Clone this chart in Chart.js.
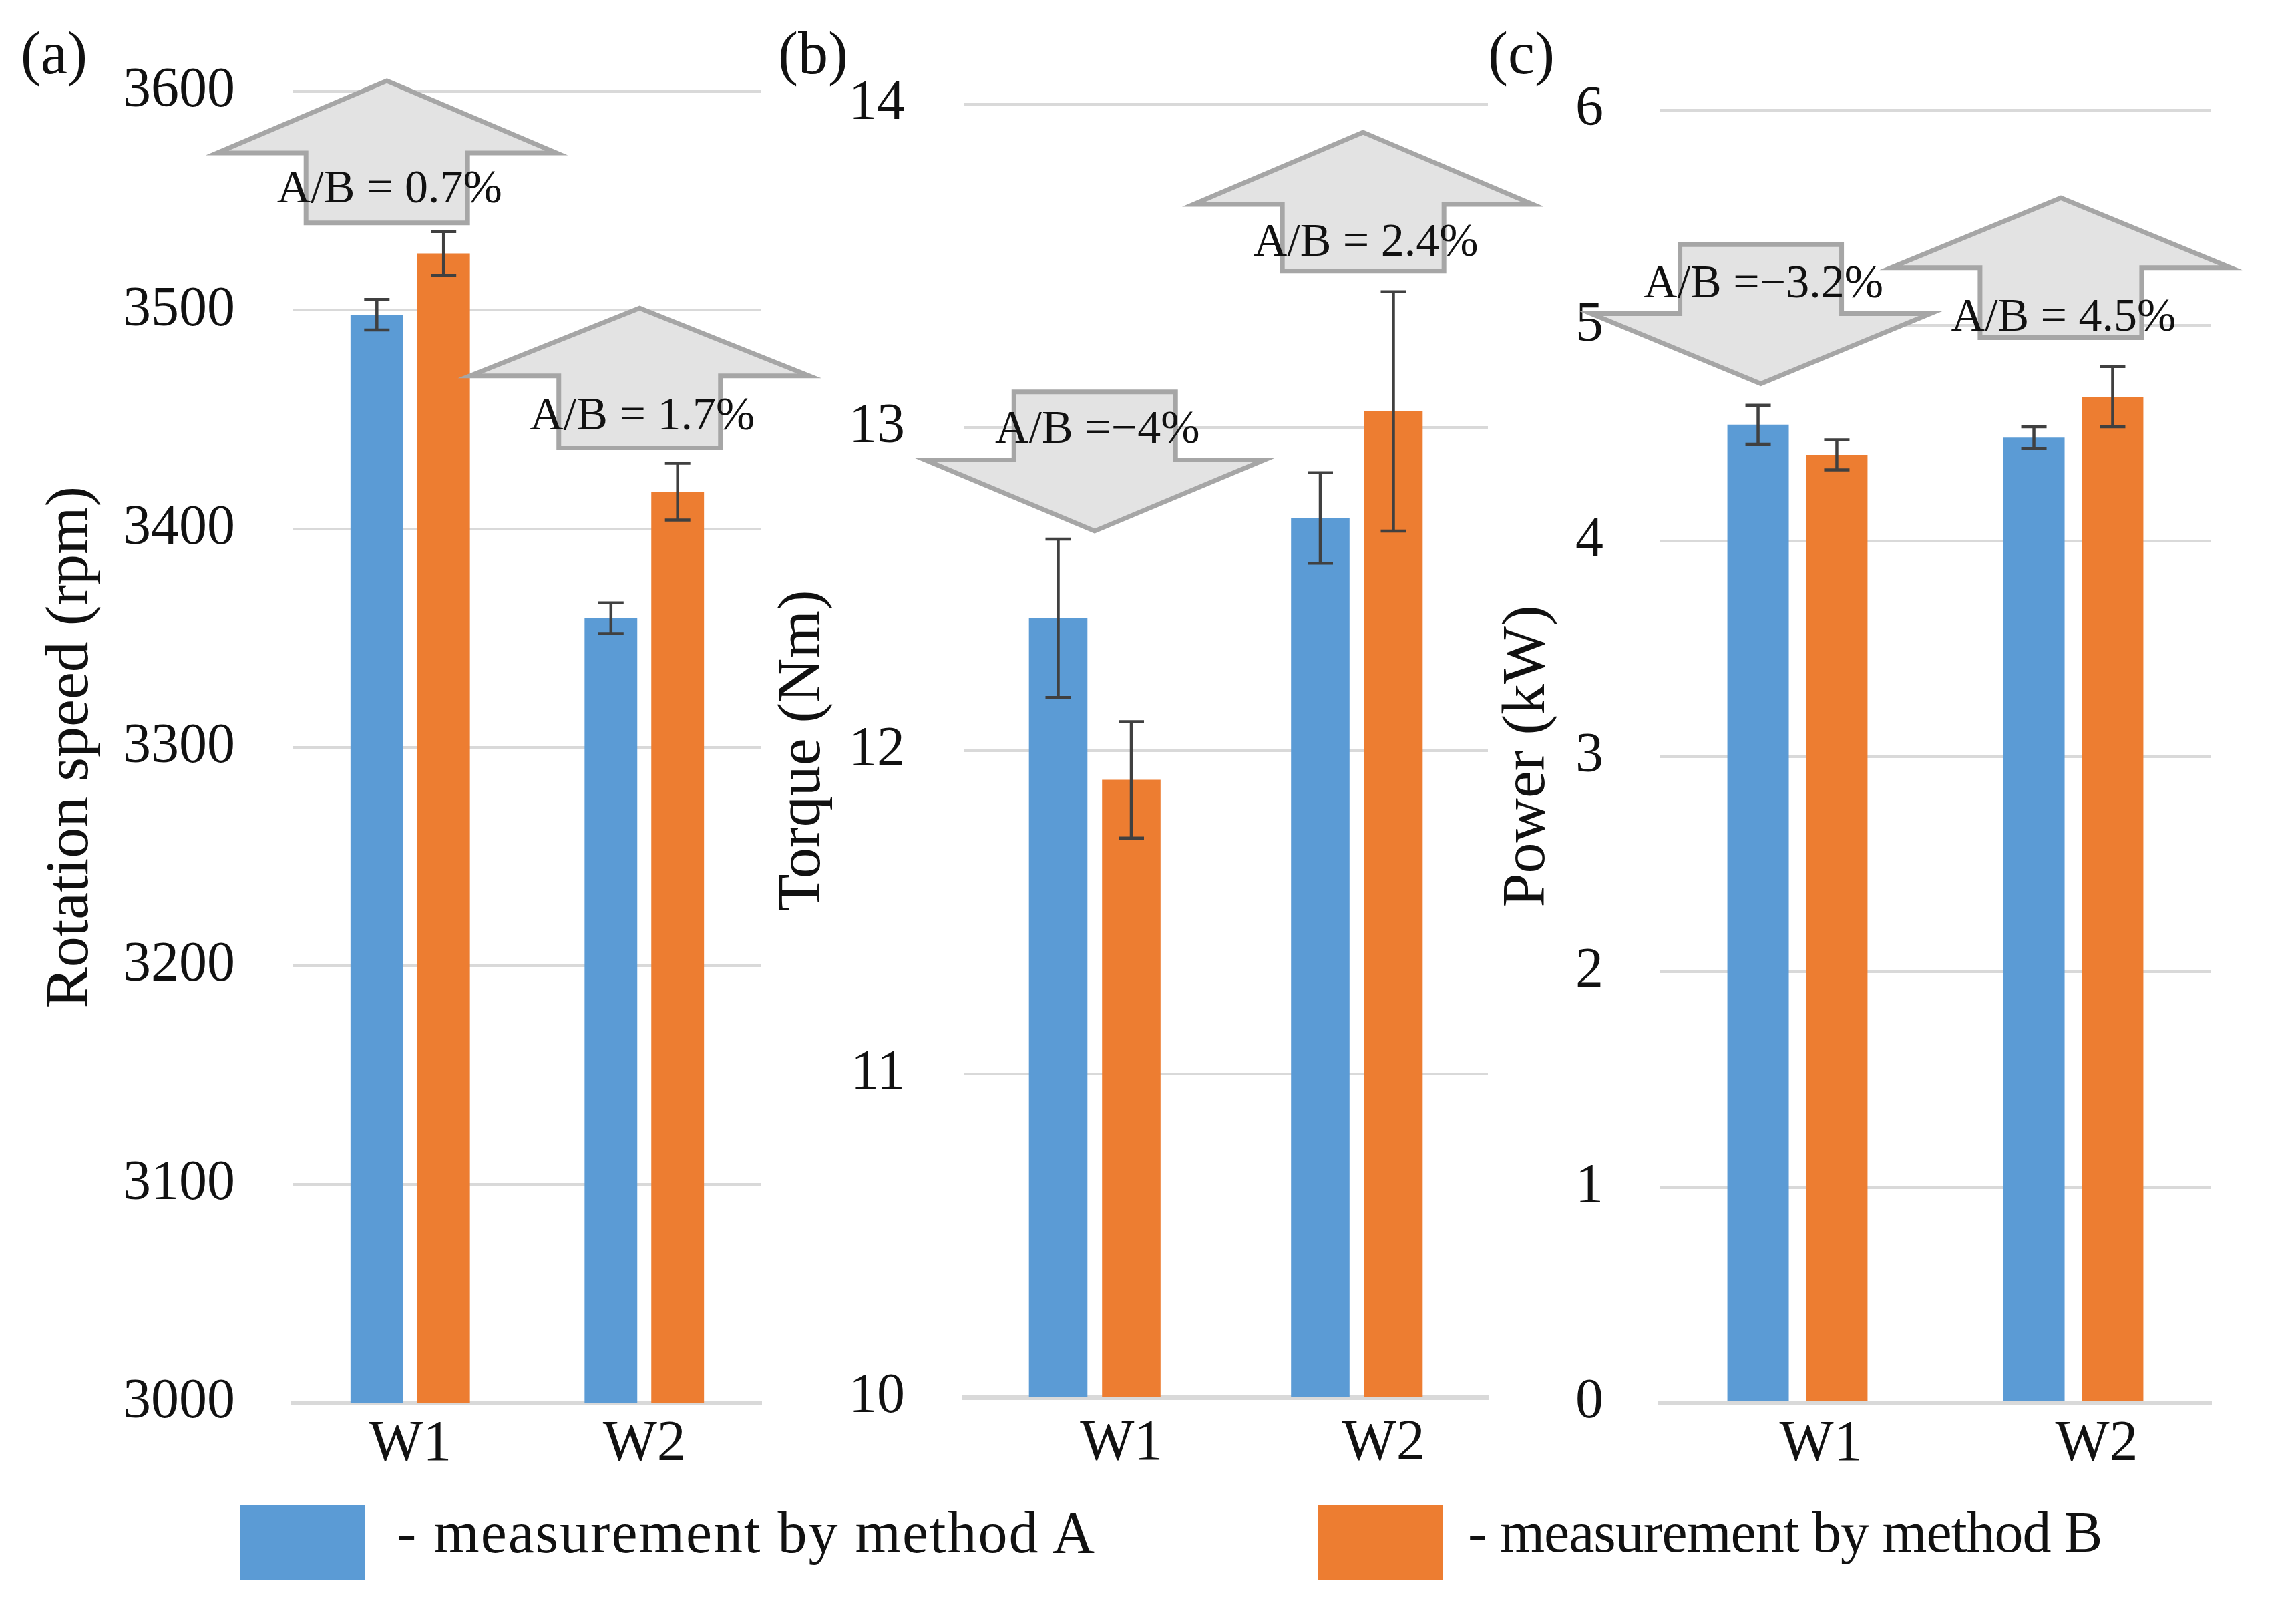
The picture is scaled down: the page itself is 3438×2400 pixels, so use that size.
<!DOCTYPE html>
<html>
<head>
<meta charset="utf-8">
<script src="https://cdn.jsdelivr.net/npm/chart.js@4.4.1/dist/chart.umd.min.js"></script>
<style>
  body { margin: 0; background: #fff; }
  #fig { position: relative; width: 3438px; height: 2400px; overflow: hidden; background: #fff; }
  #fig canvas { position: absolute; }
  .txt { position: absolute; font-family: 'Liberation Serif', serif; color: #111; line-height: 1; white-space: nowrap; }
  .panel { font-size: 90px; top: 35px; }
  .legtext { top: 2251px; }
  .swatch { position: absolute; top: 2254px; width: 187px; height: 111px; }
</style>
</head>
<body>
<div id="fig">
  <canvas id="speedChart" width="1250" height="2250" style="left:0px;top:0px"></canvas>
  <canvas id="torqueChart" width="1160" height="2250" style="left:1150px;top:0px"></canvas>
  <canvas id="powerChart" width="1238" height="2250" style="left:2200px;top:0px"></canvas>
  <div class="txt panel" style="left:31px">(a)</div>
  <div class="txt panel" style="left:1165px">(b)</div>
  <div class="txt panel" style="left:2228px">(c)</div>
  <div class="swatch" style="left:360px;background:#5b9bd5"></div>
  <div class="txt legtext" id="legA" style="left:594px;font-size:88px;letter-spacing:2px"></div>
  <div class="swatch" style="left:1974px;background:#ed7d31"></div>
  <div class="txt legtext" id="legB" style="left:2198px;font-size:86px;letter-spacing:-1px"></div>
</div>
<script>
// categories and legend
const categories = ['W1', 'W2'];
const methodLabels = ['- measurement by method A', '- measurement by method B'];

// (a) rotation speed, rpm
const speedA = [3498, 3359];
const speedAErr = [7, 7];
const speedB = [3526, 3417];
const speedBErr = [10, 13];
const speedTicks = [3000, 3600, 100];

// (b) torque, Nm
const torqueA = [12.41, 12.72];
const torqueAErr = [0.245, 0.14];
const torqueB = [11.91, 13.05];
const torqueBErr = [0.18, 0.37];
const torqueTicks = [10, 14, 1];

// (c) power, kW
const powerA = [4.54, 4.48];
const powerAErr = [0.09, 0.05];
const powerB = [4.40, 4.67];
const powerBErr = [0.07, 0.14];
const powerTicks = [0, 6, 1];

// A/B difference callouts
const speedRatios = ['A/B = 0.7%', 'A/B = 1.7%'];
const torqueRatios = ['A/B =\u22124%', 'A/B = 2.4%'];
const powerRatios = ['A/B =\u22123.2%', 'A/B = 4.5%'];

// arrow placement in data units: [category position, tip, neck, tail, text level]
const speedArrows = [[-0.1, 3605, 3572, 3540, 3555], [0.98, 3501, 3470, 3437, 3451]];
const torqueArrows = [[0, 12.68, 12.90, 13.11, 12.99], [1.024, 13.913, 13.69, 13.484, 13.568]];
const powerArrows = [[-0.133, 4.73, 5.056, 5.376, 5.19], [0.955, 5.593, 5.269, 4.944, 5.034]];

const BLUE = '#5b9bd5';
const ORANGE = '#ed7d31';
const FONT = "'Liberation Serif', serif";
const INK = '#111';

document.getElementById('legA').textContent = methodLabels[0];
document.getElementById('legB').textContent = methodLabels[1];

// draws the +/- error bars on top of each bar
const errorBars = {
  id: 'errorBars',
  afterDatasetsDraw(chart) {
    const ctx = chart.ctx;
    const y = chart.scales.y;
    ctx.save();
    ctx.strokeStyle = '#404040';
    ctx.lineWidth = 4.5;
    chart.data.datasets.forEach((ds, i) => {
      chart.getDatasetMeta(i).data.forEach((bar, j) => {
        const v = ds.data[j], e = ds.errors[j];
        const y1 = y.getPixelForValue(v + e);
        const y2 = y.getPixelForValue(v - e);
        ctx.beginPath();
        ctx.moveTo(bar.x, y1); ctx.lineTo(bar.x, y2);
        ctx.moveTo(bar.x - 19, y1); ctx.lineTo(bar.x + 19, y1);
        ctx.moveTo(bar.x - 19, y2); ctx.lineTo(bar.x + 19, y2);
        ctx.stroke();
      });
    });
    ctx.restore();
  }
};

// block arrows with the A/B text
const ratioArrows = {
  id: 'ratioArrows',
  afterDatasetsDraw(chart, args, opts) {
    const ctx = chart.ctx;
    const xs = chart.scales.x, ys = chart.scales.y;
    const headW = 254, shaftW = 121;
    opts.arrows.forEach((a, k) => {
      const cx = xs.getPixelForValue(a[0]);
      const tip = ys.getPixelForValue(a[1]);
      const neck = ys.getPixelForValue(a[2]);
      const tail = ys.getPixelForValue(a[3]);
      ctx.save();
      ctx.beginPath();
      ctx.moveTo(cx, tip);
      ctx.lineTo(cx + headW, neck);
      ctx.lineTo(cx + shaftW, neck);
      ctx.lineTo(cx + shaftW, tail);
      ctx.lineTo(cx - shaftW, tail);
      ctx.lineTo(cx - shaftW, neck);
      ctx.lineTo(cx - headW, neck);
      ctx.closePath();
      ctx.fillStyle = '#e3e3e3';
      ctx.fill();
      ctx.strokeStyle = '#a6a6a6';
      ctx.lineWidth = 7;
      ctx.stroke();
      ctx.fillStyle = INK;
      ctx.font = '70px ' + FONT;
      ctx.textAlign = 'center';
      ctx.textBaseline = 'middle';
      ctx.fillText(opts.texts[k], cx + 4, ys.getPixelForValue(a[4]));
      ctx.restore();
    });
  }
};

function makePanel(id, p) {
  const ctx = document.getElementById(id).getContext('2d');
  return new Chart(ctx, {
    type: 'bar',
    data: {
      labels: categories,
      datasets: [
        { label: methodLabels[0], data: p.a, errors: p.aErr, backgroundColor: BLUE,
          categoryPercentage: p.cat, barPercentage: p.bar },
        { label: methodLabels[1], data: p.b, errors: p.bErr, backgroundColor: ORANGE,
          categoryPercentage: p.cat, barPercentage: p.bar }
      ]
    },
    options: {
      responsive: false,
      animation: false,
      devicePixelRatio: 1,
      layout: { padding: { left: 0, top: p.top, right: p.right, bottom: 0 } },
      plugins: {
        legend: { display: false },
        tooltip: { enabled: false },
        ratioArrows: { arrows: p.arrows, texts: p.texts }
      },
      scales: {
        x: {
          grid: { display: false, drawTicks: false },
          border: { color: '#d9d9d9', width: 7 },
          ticks: { color: INK, font: { family: FONT, size: 86 }, padding: p.xPad, labelOffset: p.labelShift },
          afterFit: s => { s.height = p.xh; }
        },
        y: {
          min: p.ticks[0], max: p.ticks[1],
          ticks: { stepSize: p.ticks[2], color: INK, font: { family: FONT, size: 84 }, padding: p.tickPad,
                   callback: v => String(v) },
          grid: { color: '#d9d9d9', lineWidth: 4, drawTicks: false },
          border: { display: false },
          title: { display: true, text: p.title, color: INK,
                   font: { family: FONT, size: 92, lineHeight: 1 }, padding: { top: p.titlePad, bottom: 0 } },
          afterFit: s => { s.width = p.yw; }
        }
      }
    },
    plugins: [ratioArrows, errorBars]
  });
}

makePanel('speedChart', {
  a: speedA, aErr: speedAErr, b: speedB, bErr: speedBErr, ticks: speedTicks,
  title: 'Rotation speed (rpm)', arrows: speedArrows, texts: speedRatios,
  top: 137, right: 110, xh: 150, yw: 439, tickPad: 87, titlePad: 61, xPad: 12,
  cat: 0.57, bar: 0.79, labelShift: 0
});
makePanel('torqueChart', {
  a: torqueA, aErr: torqueAErr, b: torqueB, bErr: torqueBErr, ticks: torqueTicks,
  title: 'Torque (Nm)', arrows: torqueArrows, texts: torqueRatios,
  top: 156, right: 82, xh: 158, yw: 293, tickPad: 88, titlePad: 7, xPad: 19,
  cat: 0.558, bar: 0.80, labelShift: 40
});
makePanel('powerChart', {
  a: powerA, aErr: powerAErr, b: powerB, bErr: powerBErr, ticks: powerTicks,
  title: 'Power (kW)', arrows: powerArrows, texts: powerRatios,
  top: 165, right: 127, xh: 150, yw: 285, tickPad: 84, titlePad: 42, xPad: 12,
  cat: 0.571, bar: 0.78, labelShift: 35
});
</script>
</body>
</html>
